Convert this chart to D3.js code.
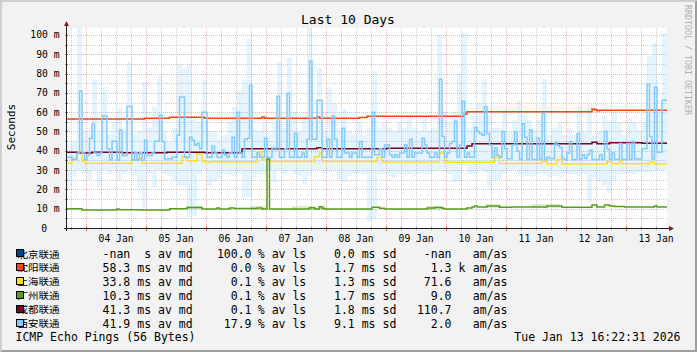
<!DOCTYPE html>
<html><head><meta charset="utf-8">
<script src="https://cdn.jsdelivr.net/npm/d3@7"></script>
<style>
html,body{margin:0;padding:0;background:#f2f2f2;}
svg{display:block;}
text{font-family:"DejaVu Sans Mono",monospace;fill:#000;}
.cjk{font-family:"Noto Sans CJK SC","DejaVu Sans",sans-serif;}
</style>
</head><body><svg id="c" width="697" height="352"></svg>
<script>
// ---------------- DATA ----------------
const title = "Last 10 Days";
const hostNames = ["北京联通","沈阳联通","上海联通","广州联通","成都联通","西安联通"];
const hostColors = ["#004586","#ff420e","#ffde20","#579d1c","#7e0021","#83caff"];
const legMd = ["-nan","58.3","33.8","10.3","41.3","41.9"];
const legMdUnit = [" ","m","m","m","m","m"];
const legLoss = ["100.0","0.0","0.1","0.1","0.1","17.9"];
const legSd = ["0.0","1.7","1.3","1.7","1.8","9.1"];
const legAm = ["-nan","1.3","71.6","9.0","110.7","2.0"];
const legAmUnit = ["","k","","","",""];
const yTickLabels = ["0","10 m","20 m","30 m","40 m","50 m","60 m","70 m","80 m","90 m","100 m"];
const yTickValues = [0,10,20,30,40,50,60,70,80,90,100];

// 西安联通 median, hourly (ms), from 03 Jan 16:22 for 240 hours
const xianMedian = [
36.6,36.6,35.5,35.5,38.8,71,38.8,35.5,37.6,46.4,53.8,38.8,
37.6,38.8,58,58,41,35.2,45,45,35.2,50.7,37.6,37.6,
63,63,35.2,39.1,35.2,39.1,35.2,45.5,37.6,37.6,38.8,45,
45,58.5,44.8,35.7,35.7,35.7,36.6,36.6,48,67.8,67.8,36.6,
36.6,47.2,45.5,42.9,43.8,41,60,60,36.6,36.6,42.4,38.8,
36.6,36.6,40.3,38,36.6,38.8,47,36.6,60,38.8,36.6,46,
46.5,74,36.6,36.6,38.8,36.6,36.6,46.5,36.6,36.6,41.4,41.4,
68.3,36.6,36.6,41,69.8,36.6,36.6,49,36.6,36.6,38.8,36.6,
46,86.5,46,46,66.2,66.2,36.6,36.6,46,36.6,58,46,
36.6,36.6,51.7,38.8,38.8,36.6,38.8,38.8,36.6,44.8,36.6,36.6,
36.6,36.6,60,38,38,41,36.6,43,43,38,36.6,38,
36.6,38.8,38.8,43,36.6,46,36.6,38.8,38.8,38.8,46.5,43,
38.8,36.6,36.6,38.8,36.6,77,47.4,36.6,38.8,43.8,44.8,55.3,
36.6,43,65.7,36.6,38.8,36.6,36.6,52,50,49,48,63,
49,43,36.6,41.4,37.6,36.6,50,41,35.9,35.9,43,49.7,
39.7,35.5,54,47,35.5,50.7,35.5,35.5,46.5,35.5,59.5,35.5,
36.6,35.9,35.9,44.3,42.9,41.7,36,35.5,38.8,44.8,35.5,35.5,
49,35.5,38,36,38,40.3,35.5,35.5,35.5,38,35.5,50,
40.9,35.5,38.8,35.5,35.5,43.8,35.5,35.5,43.8,35.5,44.8,35.7,
35.7,35.7,41,41,74.5,47.4,35.7,72.9,39.3,39.3,66.2,66.2];

// 西安联通 smoke band, 2-hour bins (ms)
const xianSmokeTop = [
44,45,104,50,52,76.7,50,73,48,55,
61.7,50,86,48,50,75.8,52,62.5,78.7,50,
45,52,84.8,83,84.8,56,55,76.7,50,50,
46,48,55,62.5,71,76.7,98.6,52,50,55,
48,55,86,52,88.8,60,50,58,104,55,
82.7,50,73.2,65,52,61.5,50,48,55,48,
52,81.5,52,55,52,50,55,52,58,52,
50,58,50,52,100,60,55,60,80,101,
52,58,65,77,58,52,52,61,50,56,
66,58,56,50,56,77,48,52,55,48,
52,48,63,50,64,48,50,58,55,60,
55,48,57,55,50,55,89,95.7,60,101];
const xianSmokeBot = [
22,27,30,28,25,30,21,30,28,30,
25,28,30,27,20,10.5,28,21,30,28,
27,25,22,22,5.5,6,28,30,22,24,
26,28,27.6,27,28,15.5,16,26,28,28,
30,24,30,28,30,28,27,23,27,30,
30,28,29,30,25,24,27,28,28,28,
3.5,5,28,28,27,26,28,28,28,27,
28,28,28,29,30,29,28,24,24,32,
28,28,30,29,20,25,25,28,30,30,
27,27,27,26.7,28,28,26,27,26,28,
28,28,27,28,13,26,24,22,18,25,
28,28,28,28,29,29,29,30,30,30];

// step change points [hour, ms]
const shenyangSteps = [[0,56.4],[31,56.9],[41,57.4],[55,56.8],[78,57.5],[79,56.8],[100,57.5],[101,57.0],[102,56.8],[117,57.2],[120,57.9],[159,59.0],[160,60.2],[210,61.6],[211,61.2],[212,60.7],[213,61.0]];
const shanghaiSteps = [[0,33.6],[2,36],[4,39.5],[6,34.8],[7,33.6],[26,35.5],[28,35.9],[30,33.6],[46,37],[48,34.7],[52,38.3],[54,34.7],[55,33.9],[57,34.3],[76,39.5],[78,35.3],[81,34.5],[99,36.9],[101,39],[102,34.5],[124,36.5],[126,34.2],[149,38.8],[151,34.0],[171,36.5],[173,33.4],[190,34.5],[192,33.2],[196,35.3],[198,33.2],[216,34.5],[218,33.3],[221,35.0],[222,33.3],[233,34.0],[235,33.2]];
const guangzhouSteps = [[0,10.0],[6,9.3],[20,9.9],[21,9.5],[30,9.3],[41,10.0],[48,10.6],[54,9.9],[60,10.3],[61,9.8],[65,10.4],[67,10.1],[76,10.4],[78,9.8],[80,35.7],[81,9.8],[97,10.5],[99,9.8],[101,11.0],[102,10.2],[103,9.8],[122,10.7],[125,10.2],[127,9.8],[144,10.4],[147,10.6],[150,10.2],[151,9.8],[160,10.4],[162,10.9],[163,11.4],[164,10.9],[168,11.4],[173,10.7],[178,10.9],[192,11.4],[198,10.7],[210,11.9],[212,10.9],[215,11.9],[217,11.4],[219,11.2],[223,10.9],[235,11.4],[236,10.9]];
const guangzhouBand = [[48,54,9.6,11.6],[73,80,9.2,11.4],[90,103,9.3,11.6],[144,150,9.5,11.6],[167,173,10.3,12.3],[186,197,10.4,12.3]];
const chengduSteps = [[0,39.2],[4,38.9],[10,39.2],[22,39.0],[40,39.3],[55,39.0],[70,41.0],[100,41.6],[102,41.0],[128,41.3],[160,42.5],[162,43.6],[210,44.4],[212,43.7],[217,44.1],[230,43.9]];

// ---------------- CHART ----------------
const W=697,H=352, X0=67,X1=667,Y0=228,Y1=28, NH=240;
const t0 = Date.UTC(2026,0,3,16,22,31);
const hDate = h => new Date(t0 + h*3600e3);
const x = d3.scaleUtc().domain([hDate(0),hDate(NH)]).range([X0,X1]);
const y = d3.scaleLinear().domain([0,103.6]).range([Y0,Y1]);
const svg = d3.select("#c");

svg.append("rect").attr("width",W).attr("height",H).attr("fill","#f2f2f2");
svg.append("path").attr("d","M0,0H697L695,2H2V350L0,352Z").attr("fill","#cfcfcf");
svg.append("path").attr("d","M697,0V352H0L2,350H695V2Z").attr("fill","#9e9e9e");
svg.append("rect").attr("x",X0).attr("y",Y1).attr("width",X1-X0).attr("height",Y0-Y1).attr("fill","#fff");

const grid = svg.append("g").attr("shape-rendering","crispEdges").attr("stroke-width",1).attr("stroke-dasharray","1,1");
const minorC="rgba(143,143,143,0.45)", majorC="rgba(222,79,79,0.42)";
// horizontal grid
d3.range(5,103.6,5).forEach(v=>{
  const yy=Math.round(y(v))+0.5;
  grid.append("line").attr("x1",X0).attr("x2",X1).attr("y1",yy).attr("y2",yy)
    .attr("stroke", v%10===0?majorC:minorC);
});
// vertical grid
const minorT = d3.utcHour.every(6).range(hDate(0),hDate(NH)).filter(d=>d.getUTCHours()!==0);
const majorT = d3.utcDay.range(hDate(0),hDate(NH));
minorT.forEach(d=>{const xx=Math.round(x(d))+0.5;
  grid.append("line").attr("x1",xx).attr("x2",xx).attr("y1",Y1).attr("y2",Y0).attr("stroke",minorC);});
majorT.forEach(d=>{const xx=Math.round(x(d))+0.5;
  grid.append("line").attr("x1",xx).attr("x2",xx).attr("y1",Y1).attr("y2",Y0).attr("stroke",majorC);});

const plot = svg.append("g");
svg.append("clipPath").attr("id","clip").append("rect").attr("x",X0).attr("y",Y1).attr("width",X1-X0).attr("height",Y0-Y1);
plot.attr("clip-path","url(#clip)");

// smoke
plot.append("g").attr("shape-rendering","crispEdges").selectAll("rect").data(xianSmokeTop).join("rect")
  .attr("x",(d,i)=>x(hDate(2*i))).attr("width",(d,i)=>x(hDate(2*i+2))-x(hDate(2*i)))
  .attr("y",d=>y(d)).attr("height",(d,i)=>y(xianSmokeBot[i])-y(d))
  .attr("fill","#83caff").attr("fill-opacity",0.2);
plot.append("g").attr("shape-rendering","crispEdges").selectAll("rect").data(guangzhouBand).join("rect")
  .attr("x",d=>x(hDate(d[0]))).attr("width",d=>x(hDate(d[1]))-x(hDate(d[0])))
  .attr("y",d=>y(d[3])).attr("height",d=>y(d[2])-y(d[3]))
  .attr("fill","#579d1c").attr("fill-opacity",0.2);

const line = d3.line().x(d=>x(hDate(d[0]))).y(d=>y(d[1])).curve(d3.curveStepAfter);
const withEnd = s => s.concat([[NH, s[s.length-1][1]]]);
const series = [
  [shenyangSteps, hostColors[1]],
  [shanghaiSteps, hostColors[2]],
  [guangzhouSteps, hostColors[3]],
  [chengduSteps, hostColors[4]],
  [xianMedian.map((v,i)=>[i,v]), hostColors[5]]
];
series.forEach(([s,c])=>{
  plot.append("path").attr("d",line(withEnd(s))).attr("fill","none").attr("stroke",c)
    .attr("stroke-width",1.5).attr("stroke-linejoin","miter");
});

// axes
const ax = svg.append("g").attr("shape-rendering","crispEdges");
minorT.forEach(d=>{const xx=Math.round(x(d))+0.5;
  ax.append("line").attr("x1",xx).attr("x2",xx).attr("y1",Y0-1).attr("y2",Y0+2).attr("stroke","rgba(143,143,143,0.9)");});
majorT.forEach(d=>{const xx=Math.round(x(d))+0.5;
  ax.append("line").attr("x1",xx).attr("x2",xx).attr("y1",Y0-2).attr("y2",Y0+3).attr("stroke","rgba(222,79,79,0.9)");});
d3.range(5,103.6,5).forEach(v=>{const yy=Math.round(y(v))+0.5;
  ax.append("line").attr("x1",X0-2).attr("x2",X0+1).attr("y1",yy).attr("y2",yy)
   .attr("stroke", v%10===0?"rgba(222,79,79,0.9)":"rgba(143,143,143,0.9)");});
ax.append("line").attr("x1",X0-3).attr("x2",X1+4).attr("y1",Y0+0.5).attr("y2",Y0+0.5).attr("stroke","#1f1f1f");
ax.append("line").attr("x1",X0-0.5).attr("x2",X0-0.5).attr("y1",Y0+3).attr("y2",Y1-3).attr("stroke","#1f1f1f");
svg.append("path").attr("d",`M${X1+2},${Y0-2}L${X1+7},${Y0+0.5}L${X1+2},${Y0+3}Z`).attr("fill","#7f1f1f");
svg.append("path").attr("d",`M${X0-3},${Y1-2}L${X0-0.5},${Y1-7}L${X0+2},${Y1-2}Z`).attr("fill","#7f1f1f");

// y labels
yTickValues.forEach((v,i)=>{
  svg.append("text").attr("x", v===0?47:59.5).attr("y",y(v)+3.5).attr("text-anchor","end")
    .attr("font-size","9.7px").text(yTickLabels[i]);
});
// x labels at noon
const fmt = d3.utcFormat("%d %b");
majorT.concat([d3.utcDay.floor(hDate(0))]).forEach(d=>{
  const noon = d3.utcHour.offset(d,12);
  if (noon < hDate(0) || noon > hDate(NH)) return;
  svg.append("text").attr("x",x(noon)).attr("y",241.5).attr("text-anchor","middle")
    .attr("font-size","9.7px").text(fmt(noon));
});

// titles
svg.append("text").attr("x",348).attr("y",23.5).attr("text-anchor","middle").attr("font-size","13px").text(title);
svg.append("text").attr("transform","translate(15,127) rotate(-90)").attr("text-anchor","middle").attr("font-size","11px").text("Seconds");
svg.append("text").attr("transform","translate(685,5) rotate(90)").attr("font-size","8.3px").style("fill","#b0b0b0").text("RRDTOOL / TOBI OETIKER");

// legend
hostNames.forEach((n,i)=>{
  const by = 258 + i*13.9;
  svg.append("text").attr("class","cjk").attr("transform",`translate(17.5,${by-0.5}) scale(1.12,1)`)
    .attr("font-size","9.4px").text(n);
  svg.append("rect").attr("x",16).attr("y",by-8.5).attr("width",7).attr("height",7)
    .attr("fill",hostColors[i]).attr("stroke","#000").attr("stroke-width",1).attr("shape-rendering","crispEdges");
  const fs="11.5px";
  svg.append("text").attr("x",102.6).attr("y",by).attr("font-size",fs).style("white-space","pre")
    .text(`${legMd[i]} ${legMdUnit[i]}s av md`);
  svg.append("text").attr("x",251.5).attr("y",by).attr("font-size",fs).attr("text-anchor","end").text(legLoss[i]);
  svg.append("text").attr("x",257.8).attr("y",by).attr("font-size",fs).text("% av ls");
  svg.append("text").attr("x",334).attr("y",by).attr("font-size",fs).text(`${legSd[i]} ms sd`);
  svg.append("text").attr("x",451.5).attr("y",by).attr("font-size",fs).attr("text-anchor","end").text(legAm[i]);
  if (legAmUnit[i]) svg.append("text").attr("x",458.5).attr("y",by).attr("font-size",fs).text(legAmUnit[i]);
  svg.append("text").attr("x",472.8).attr("y",by).attr("font-size",fs).text("am/as");
});
svg.append("text").attr("x",15.5).attr("y",341).attr("font-size","11.5px").text("ICMP Echo Pings (56 Bytes)");
svg.append("text").attr("x",680.5).attr("y",341).attr("font-size","11.5px").attr("text-anchor","end").text("Tue Jan 13 16:22:31 2026");
</script></body></html>
